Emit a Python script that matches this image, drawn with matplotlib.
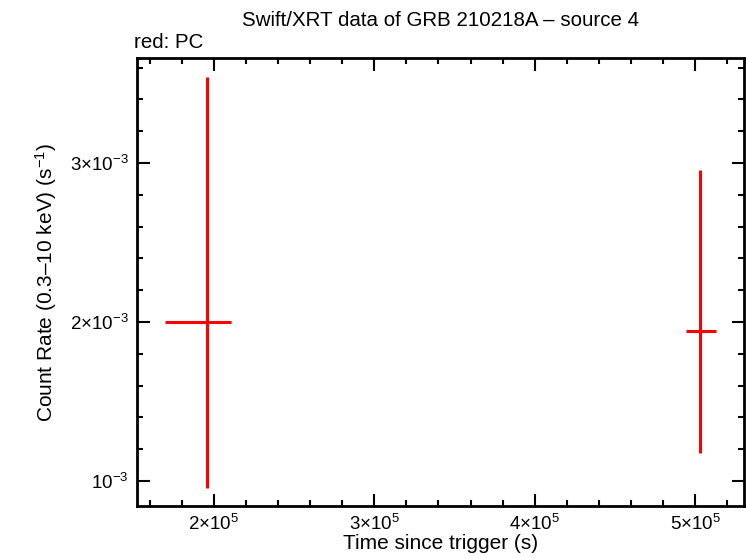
import numpy as np
import matplotlib
matplotlib.use("Agg")
import matplotlib.pyplot as plt
from matplotlib.ticker import FixedLocator, MultipleLocator, FuncFormatter

plt.rcParams["font.family"] = ["Liberation Sans", "DejaVu Sans"]
plt.rcParams["mathtext.fontset"] = "custom"
plt.rcParams["mathtext.rm"] = "Liberation Sans"
plt.rcParams["mathtext.it"] = "Liberation Sans"

# PC mode points
t = np.array([1.956e5, 5.031e5])
t_lo = np.array([1.694e5, 4.944e5])
t_hi = np.array([2.106e5, 5.131e5])
rate = np.array([2.0e-3, 1.943e-3])
rate_lo = np.array([0.956e-3, 1.176e-3])
rate_hi = np.array([3.541e-3, 2.956e-3])

x_ticks = [2e5, 3e5, 4e5, 5e5]
y_ticks = [1e-3, 2e-3, 3e-3]


def sci_label(v, pos=None):
    exp = int(np.floor(np.log10(v) + 1e-9))
    mant = v / 10 ** exp
    if abs(mant - 1) < 1e-6:
        return r"$10^{%d}$" % exp
    return r"$%d{\times}10^{%d}$" % (round(mant), exp)


fig = plt.figure(figsize=(7.46, 5.58), dpi=100)
ax = fig.add_axes([137 / 746, 1 - 506 / 558, (744 - 137) / 746, (506 - 58) / 558])

ax.errorbar(t, rate,
            xerr=[t - t_lo, t_hi - t],
            yerr=[rate - rate_lo, rate_hi - rate],
            fmt="none", ecolor="red", elinewidth=2.2, capsize=0)

ax.set_xlim(1.52e5, 5.305e5)
ax.set_ylim(0.843e-3, 3.66e-3)

ax.xaxis.set_major_locator(FixedLocator(x_ticks))
ax.xaxis.set_minor_locator(MultipleLocator(2e4))
ax.yaxis.set_major_locator(FixedLocator(y_ticks))
ax.yaxis.set_minor_locator(MultipleLocator(2e-4))
ax.xaxis.set_major_formatter(FuncFormatter(sci_label))
ax.yaxis.set_major_formatter(FuncFormatter(sci_label))

ax.tick_params(which="both", direction="in", top=True, right=True, width=1.5, labelsize=13.5)
ax.tick_params(which="major", length=9, pad=6)
ax.tick_params(which="minor", length=4.5)
for s in ax.spines.values():
    s.set_linewidth(2)

ax.set_xlabel("Time since trigger (s)", fontsize=15, labelpad=0)
ax.set_ylabel("Count Rate (0.3\u201310 keV) (s$^{-1}$)", fontsize=15, labelpad=8)
fig.text((137 + 744) / 2 / 746, 1 - 20 / 558, "Swift/XRT data of GRB 210218A \u2013 source 4",
         ha="center", va="center", fontsize=14.8)
fig.text(134 / 746, 1 - 42 / 558, "red: PC", ha="left", va="center", fontsize=14.8)

fig.savefig("out.png", dpi=100)
